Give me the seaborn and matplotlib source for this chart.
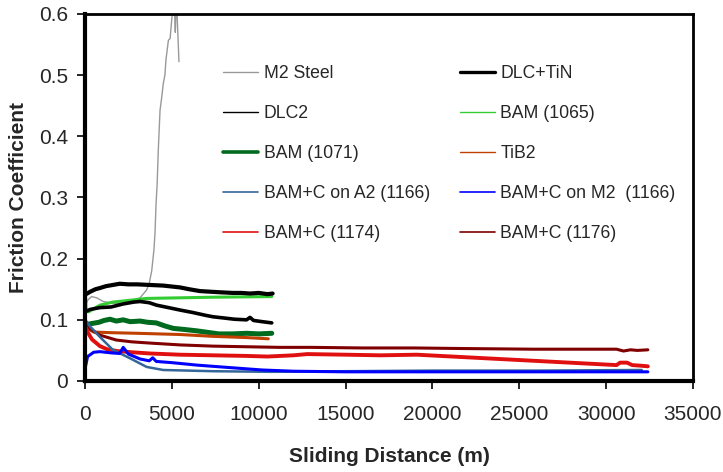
import matplotlib
matplotlib.use("Agg")
import matplotlib.pyplot as plt
import seaborn as sns
import pandas as pd

# Sliding distance (m) and friction coefficient for each coating
m2_steel_x = [0, 150, 380, 670, 1050, 1630, 2100, 2600, 3170, 3550, 3700, 3840, 3970, 4030,
              4090, 4150, 4220, 4320, 4400, 4510, 4600, 4660, 4800, 4900, 4990, 5060,
              5120, 5160, 5200, 5250, 5300, 5370, 5410]
m2_steel_y = [0.121, 0.132, 0.138, 0.136, 0.130, 0.127, 0.127, 0.130, 0.136, 0.149, 0.160,
              0.180, 0.215, 0.242, 0.290, 0.320, 0.378, 0.443, 0.460, 0.487, 0.500, 0.525,
              0.557, 0.560, 0.590, 0.610, 0.630, 0.600, 0.570, 0.620, 0.600, 0.550, 0.522]

dlc_tin_x = [0, 300, 600, 860, 1200, 1600, 2000, 2500, 3000, 3740, 4500, 5470, 6000, 6620,
             7200, 7800, 8520, 9000, 9500, 10000, 10500, 10800]
dlc_tin_y = [0.141, 0.146, 0.150, 0.152, 0.155, 0.157, 0.159, 0.158, 0.158, 0.157, 0.156,
             0.153, 0.150, 0.147, 0.146, 0.145, 0.144, 0.144, 0.143, 0.144, 0.142, 0.143]

dlc2_x = [0, 300, 860, 1500, 2200, 2800, 3170, 3700, 4120, 4800, 5470, 6200, 7000, 7370,
          8000, 8600, 9300, 9500, 9700, 10200, 10750]
dlc2_y = [0.113, 0.117, 0.120, 0.121, 0.126, 0.129, 0.130, 0.128, 0.124, 0.120, 0.116,
          0.112, 0.107, 0.105, 0.103, 0.101, 0.100, 0.104, 0.099, 0.097, 0.095]

bam1065_x = [0, 60, 200, 860, 1600, 2600, 3550, 5470, 7370, 10750]
bam1065_y = [0.165, 0.118, 0.113, 0.124, 0.129, 0.132, 0.135, 0.136, 0.137, 0.138]

bam1071_x = [0, 400, 800, 1100, 1440, 1800, 2200, 2600, 3170, 3600, 4100, 4600, 5080,
             5800, 6430, 7200, 7700, 8500, 9300, 10000, 10750]
bam1071_y = [0.092, 0.094, 0.096, 0.099, 0.101, 0.098, 0.100, 0.097, 0.098, 0.096, 0.095,
             0.090, 0.086, 0.084, 0.082, 0.079, 0.077, 0.077, 0.078, 0.077, 0.078]

tib2_x = [0, 200, 500, 1500, 3000, 5470, 7370, 9300, 10550]
tib2_y = [0.095, 0.085, 0.080, 0.079, 0.078, 0.076, 0.073, 0.071, 0.069]

bamc_a2_x = [0, 300, 860, 1600, 2600, 3550, 4500, 7370, 10750, 15000, 20000, 26000, 32050]
bamc_a2_y = [0.100, 0.089, 0.072, 0.051, 0.037, 0.023, 0.018, 0.016, 0.015, 0.016, 0.017,
             0.017, 0.018]

bamc_m2_x = [0, 150, 500, 860, 1500, 2000, 2200, 2500, 3170, 3700, 3900, 4100, 5000, 6430,
             8300, 10200, 12000, 15000, 20000, 25000, 30000, 32400]
bamc_m2_y = [0.020, 0.040, 0.047, 0.048, 0.046, 0.045, 0.055, 0.044, 0.036, 0.033, 0.038,
             0.032, 0.030, 0.026, 0.022, 0.018, 0.016, 0.015, 0.015, 0.015, 0.015, 0.015]

bamc1174_x = [0, 150, 400, 860, 1270, 1840, 2700, 3740, 5470, 7370, 9300, 10500, 12000,
              12800, 15000, 17000, 19100, 30600, 30800, 31200, 31500, 32000, 32400]
bamc1174_y = [0.090, 0.080, 0.068, 0.057, 0.052, 0.049, 0.047, 0.045, 0.043, 0.042, 0.041,
              0.040, 0.042, 0.044, 0.043, 0.042, 0.043, 0.026, 0.030, 0.030, 0.026, 0.025,
              0.024]

bamc1176_x = [0, 300, 860, 1800, 2700, 3740, 5470, 7370, 9300, 11200, 13000, 16000, 19000,
              22000, 25800, 30600, 31000, 31400, 31800, 32400]
bamc1176_y = [0.100, 0.085, 0.075, 0.067, 0.064, 0.062, 0.059, 0.057, 0.056, 0.055, 0.055,
              0.054, 0.054, 0.053, 0.052, 0.052, 0.049, 0.051, 0.050, 0.051]

labels = ["M2 Steel", "DLC+TiN", "DLC2", "BAM (1065)", "BAM (1071)", "TiB2",
          "BAM+C on A2 (1166)", "BAM+C on M2  (1166)", "BAM+C (1174)", "BAM+C (1176)"]
xs = [m2_steel_x, dlc_tin_x, dlc2_x, bam1065_x, bam1071_x, tib2_x,
      bamc_a2_x, bamc_m2_x, bamc1174_x, bamc1176_x]
ys = [m2_steel_y, dlc_tin_y, dlc2_y, bam1065_y, bam1071_y, tib2_y,
      bamc_a2_y, bamc_m2_y, bamc1174_y, bamc1176_y]
colors = ["#999999", "#000000", "#000000", "#33CC33", "#006B1E", "#C04000",
          "#336699", "#0000FF", "#E01010", "#800000"]
# drawn widths (data traces are noisy, so drawn wider) and legend key widths
line_w = [1.0, 3.0, 2.6, 2.2, 3.6, 2.2, 1.8, 2.2, 2.8, 2.2]
key_w = [1.0, 2.4, 1.0, 1.0, 2.6, 1.0, 1.2, 1.2, 1.2, 1.2]

sns.set_theme(style="white")
plt.rcParams["font.family"] = ["Liberation Sans", "DejaVu Sans"]

fig = plt.figure(figsize=(7.23, 4.72), dpi=100)
ax = fig.add_axes([85 / 723, 1 - 381 / 472, 608 / 723, 367 / 472])

draw_order = [0, 4, 5, 3, 2, 1, 9, 8, 6, 7]
handles = {}
for i in draw_order:
    df = pd.DataFrame({"x": xs[i], "y": ys[i]})
    sns.lineplot(data=df, x="x", y="y", ax=ax, color=colors[i], linewidth=line_w[i],
                 sort=False, estimator=None, label=labels[i])
    handles[i] = ax.get_lines()[-1]

ax.set_xlim(0, 35000)
ax.set_ylim(0, 0.6)
ax.set_xticks(range(0, 35001, 5000))
ax.set_yticks([0, 0.1, 0.2, 0.3, 0.4, 0.5, 0.6])
ax.set_yticklabels(["0", "0.1", "0.2", "0.3", "0.4", "0.5", "0.6"])
ax.tick_params(axis="both", which="major", labelsize=15, direction="out", length=6,
               width=1.2, color="black", bottom=True, left=True)
ax.tick_params(axis="x", pad=11)
ax.tick_params(axis="y", pad=6)
ax.set_xlabel("Sliding Distance (m)", fontsize=15, fontweight="bold", labelpad=17)
ax.set_ylabel("Friction Coefficient", fontsize=15, fontweight="bold", labelpad=8)

for side in ["left", "bottom"]:
    ax.spines[side].set_linewidth(3.0)
for side in ["right", "top"]:
    ax.spines[side].set_linewidth(2.0)
for sp in ax.spines.values():
    sp.set_color("black")

# legend filled row by row: two entries per row
order = [0, 2, 4, 6, 8, 1, 3, 5, 7, 9]
leg = ax.legend([handles[i] for i in order], [labels[i] for i in order], ncol=2,
                loc="upper left", bbox_to_anchor=(223 / 723, 1 - 65 / 472),
                bbox_transform=fig.transFigure, frameon=False, fontsize=12.7,
                handlelength=2.0, handletextpad=0.3, columnspacing=1.7,
                labelspacing=1.3, borderpad=0, borderaxespad=0)
for h, i in zip(leg.legend_handles, order):
    h.set_linewidth(key_w[i])

fig.savefig("out.png", dpi=100)
